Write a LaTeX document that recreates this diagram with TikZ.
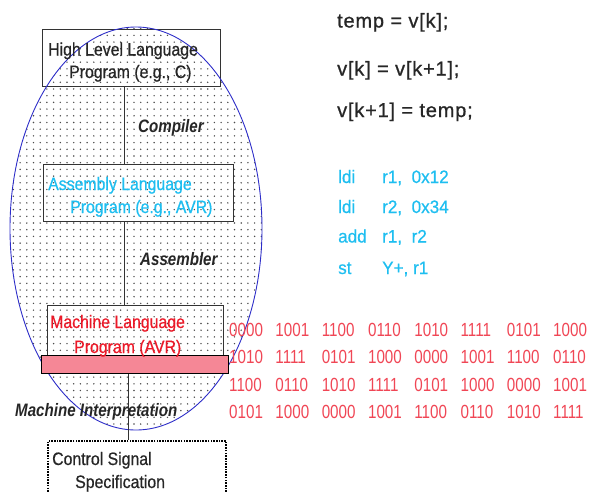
\documentclass[tikz,border=0pt]{standalone}
\usepackage{fontspec}
\setmainfont{Liberation Sans}
\newfontfamily\narrowsans[FakeStretch=0.88, FakeBold=0.6]{Liberation Sans}
\newfontfamily\labelsans[FakeStretch=0.84]{Liberation Sans}
\newfontfamily\binsans[FakeStretch=0.8]{Liberation Sans}
\newfontfamily\codesans[LetterSpace=4, FakeBold=0.8]{Liberation Sans}
\newfontfamily\asmsans[FakeStretch=0.95, FakeBold=0.6]{Liberation Sans}
\usetikzlibrary{patterns.meta}

\definecolor{ellblue}{RGB}{45,45,200}
\definecolor{asmcyan}{RGB}{30,190,240}
\definecolor{mlred}{RGB}{235,25,40}
\definecolor{binred}{RGB}{240,70,85}
\definecolor{barpink}{RGB}{245,135,150}

\tikzdeclarepattern{
  name=sparsedots,
  type=uncolored,
  bounding box={(-1pt,-1pt) and (1pt,1pt)},
  tile size={(6.7pt,6.7pt)},
  code={\fill (0pt,0pt) circle [radius=0.8pt];}
}

% one row of eight 4-bit groups
\newcommand{\bitrow}[8]{%
  \makebox[46.3pt][l]{#1}\makebox[46.3pt][l]{#2}\makebox[46.3pt][l]{#3}%
  \makebox[46.3pt][l]{#4}\makebox[46.3pt][l]{#5}\makebox[46.3pt][l]{#6}%
  \makebox[46.3pt][l]{#7}#8}

\tikzset{
  levelbox/.style={draw=black!80, line width=0.8pt, inner sep=0pt, anchor=north west},
  boxtext/.style={anchor=base west, inner sep=0pt, font=\narrowsans\fontsize{18}{20}\selectfont, text=black!85},
  steplabel/.style={anchor=base west, inner sep=0pt, font=\labelsans\bfseries\itshape\fontsize{18}{20}\selectfont, text=black!85},
  hlcode/.style={anchor=base west, inner sep=0pt, font=\codesans\fontsize{20}{22}\selectfont, text=black!85},
  asmcode/.style={anchor=base west, inner sep=0pt, font=\asmsans\fontsize{18}{20}\selectfont, text=asmcyan},
  bincode/.style={anchor=base west, inner sep=0pt, font=\binsans\fontsize{19}{21}\selectfont, text=binred},
  link/.style={draw=black!80, line width=0.8pt}
}

\begin{document}
\begin{tikzpicture}[x=1pt, y=-1pt]
\useasboundingbox (0,0) rectangle (592,491);
\clip (0,0) rectangle (592,491);

% dotted region of the translation chain
\fill[pattern=sparsedots, pattern color=black!70]
  (136,228.5) ellipse [x radius=126, y radius=201.5];

% level boxes
\node[levelbox, minimum width=178pt, minimum height=57pt] (hll) at (42,29) {};
\node[levelbox, minimum width=190pt, minimum height=57pt] (asm) at (43,164) {};
\node[levelbox, minimum width=176pt, minimum height=50pt] (mlp) at (47,305) {};
\node[draw=black, line width=2pt, dash pattern=on 1.6pt off 1.1pt, inner sep=0pt, anchor=north west,
      minimum width=178pt, minimum height=70pt] (ctl) at (47,440) {};

% vertical links between the levels
\coordinate (axisA) at (124,0);
\coordinate (axisB) at (128,0);
\draw[link] (axisA |- hll.south) -- (axisA |- asm.north);
\draw[link] (axisA |- asm.south) -- (axisA |- mlp.north);

% ellipse outline
\draw[ellblue, line width=0.9pt]
  (136,228.5) ellipse [x radius=126, y radius=201.5];

% machine code bar
\node[draw=black, line width=0.9pt, fill=barpink, inner sep=0pt, anchor=north west,
      minimum width=187pt, minimum height=18pt] (bar) at (41,355) {};
\draw[link] (axisB |- bar.south) -- (axisB |- ctl.north);

% box texts
\node[boxtext] at (48,55.5) {High Level Language};
\node[boxtext] at (69,78) {Program (e.g., C)};
\node[boxtext, text=asmcyan] at (48,190) {Assembly Language};
\node[boxtext, text=asmcyan] at (70,213) {Program (e.g., AVR)};
\node[boxtext, text=mlred] at (50,328) {Machine Language};
\node[boxtext, text=mlred] at (74,353) {Program (AVR)};
\node[boxtext] at (52,465) {Control Signal};
\node[boxtext] at (75,488) {Specification};

% translation step labels
\node[steplabel] at (138,132) {Compiler};
\node[steplabel] at (140,265) {Assembler};
\node[steplabel] at (15,416) {Machine Interpretation};

% high level code
\node[hlcode] at (337,27.5) {temp = v[k];};
\node[hlcode] at (337,75.5) {v[k] = v[k+1];};
\node[hlcode] at (337,117) {v[k+1] = temp;};

% assembly code
\node[asmcode] at (338,183) {ldi};
\node[asmcode] at (382,183) {r1,\ \ 0x12};
\node[asmcode] at (338,213) {ldi};
\node[asmcode] at (382,213) {r2,\ \ 0x34};
\node[asmcode] at (338,242.5) {add};
\node[asmcode] at (382,242.5) {r1,\ \ r2};
\node[asmcode] at (338,274) {st};
\node[asmcode] at (382,274) {Y+, r1};

% machine code
\node[bincode] at (229,336) {\bitrow{0000}{1001}{1100}{0110}{1010}{1111}{0101}{1000}};
\node[bincode] at (229,363) {\bitrow{1010}{1111}{0101}{1000}{0000}{1001}{1100}{0110}};
\node[bincode] at (229,391) {\bitrow{1100}{0110}{1010}{1111}{0101}{1000}{0000}{1001}};
\node[bincode] at (229,418) {\bitrow{0101}{1000}{0000}{1001}{1100}{0110}{1010}{1111}};
\end{tikzpicture}
\end{document}
